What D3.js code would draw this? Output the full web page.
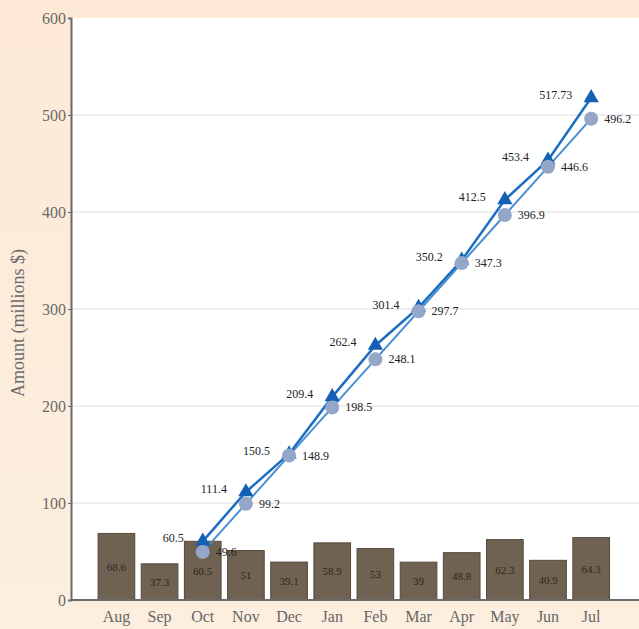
<!DOCTYPE html>
<html><head><meta charset="utf-8">
<script src="https://cdn.jsdelivr.net/npm/d3@7"></script>
<style>
html,body{margin:0;padding:0;background:#fcecdc;}
svg{display:block;}
</style></head>
<body>
<svg id="chart" width="639" height="629"></svg>
<script>
const months = ["Aug","Sep","Oct","Nov","Dec","Jan","Feb","Mar","Apr","May","Jun","Jul"];
const monthly = [68.6,37.3,60.5,51,39.1,58.9,53,39,48.8,62.3,40.9,64.3];
const lineMonths = ["Oct","Nov","Dec","Jan","Feb","Mar","Apr","May","Jun","Jul"];
const cumActual = [60.5,111.4,150.5,209.4,262.4,301.4,350.2,412.5,453.4,517.73];
const cumTarget = [49.6,99.2,148.9,198.5,248.1,297.7,347.3,396.9,446.6,496.2];
const yTicks = [0,100,200,300,400,500,600];
const yTitle = "Amount (millions $)";

(function(){
const svg = d3.select("#chart");
const W = 639, H = 629;
const mLeft = 71, mTop = 18, mBottom = 600;
const serif = "'Liberation Serif','Times New Roman',serif";

const defs = svg.append("defs");
const g0 = defs.append("linearGradient").attr("id","bg").attr("x1",0).attr("x2",0).attr("y1",0).attr("y2",1);
g0.append("stop").attr("offset","0%").attr("stop-color","#fde9d6");
g0.append("stop").attr("offset","100%").attr("stop-color","#fcefdf");
svg.append("rect").attr("width",W).attr("height",H).attr("fill","url(#bg)");
svg.append("rect").attr("x",mLeft).attr("y",mTop).attr("width",W-mLeft).attr("height",mBottom-mTop).attr("fill","#ffffff");

const x = d3.scaleBand().domain(months).range([91.6,616]).padding(0.15);
const y = d3.scaleLinear().domain([0,600]).range([mBottom, mTop]);

svg.append("g").selectAll("line").data(yTicks.filter(d=>d>0 && d<600)).join("line")
  .attr("x1",mLeft).attr("x2",W).attr("y1",d=>y(d)).attr("y2",d=>y(d))
  .attr("stroke","#dedede").attr("stroke-width",1);

const yAxis = svg.append("g").attr("transform",`translate(${mLeft},0)`)
  .call(d3.axisLeft(y).tickValues(yTicks).tickSize(3).tickFormat(d3.format("d")));
yAxis.select(".domain").attr("stroke","#6a6a6a").attr("stroke-width",2);
yAxis.selectAll(".tick line").attr("stroke","#6a6a6a");
yAxis.selectAll(".tick text").attr("font-family",serif)
  .attr("font-size",16).attr("fill","#6a6a6a").attr("x",-5);

svg.append("text").attr("transform",`translate(24,323) rotate(-90)`)
  .attr("text-anchor","middle").attr("font-family",serif)
  .attr("font-size",18).attr("fill","#6a6a6a").text(yTitle);

const bars = svg.append("g");
bars.selectAll("rect").data(monthly).join("rect")
  .attr("x",(d,i)=>x(months[i])).attr("width",x.bandwidth())
  .attr("y",d=>y(d)).attr("height",d=>y(0)-y(d))
  .attr("fill","#6f6253").attr("stroke","#57493c").attr("stroke-width",1);
bars.selectAll("text").data(monthly).join("text")
  .attr("x",(d,i)=>x(months[i])+x.bandwidth()/2)
  .attr("y",d=>y(d/2)+4).attr("text-anchor","middle")
  .attr("font-family",serif).attr("font-size",11)
  .attr("fill","#30251c").text(d=>d);

svg.append("line").attr("x1",mLeft).attr("x2",W).attr("y1",mBottom).attr("y2",mBottom)
  .attr("stroke","#6a6a6a").attr("stroke-width",2);
svg.append("g").selectAll("text").data(months).join("text")
  .attr("x",d=>x(d)+x.bandwidth()/2).attr("y",622).attr("text-anchor","middle")
  .attr("font-family",serif).attr("font-size",16)
  .attr("fill","#666").text(d=>d);

const cx = m => x(m)+x.bandwidth()/2;
const lineGen = d3.line().x(d=>cx(d[0])).y(d=>y(d[1]));
const actualPts = lineMonths.map((m,i)=>[m,cumActual[i]]);
const targetPts = lineMonths.map((m,i)=>[m,cumTarget[i]]);

svg.append("path").datum(targetPts).attr("d",lineGen).attr("fill","none")
  .attr("stroke","#4a8fd0").attr("stroke-width",2);
svg.append("path").datum(actualPts).attr("d",lineGen).attr("fill","none")
  .attr("stroke","#1b6ec2").attr("stroke-width",2.5);

svg.append("g").selectAll("path").data(actualPts).join("path")
  .attr("d",d3.symbol().type(d3.symbolTriangle).size(100))
  .attr("transform",d=>`translate(${cx(d[0])},${y(d[1])})`)
  .attr("fill","#1560b4");
svg.append("g").selectAll("circle").data(targetPts).join("circle")
  .attr("cx",d=>cx(d[0])).attr("cy",d=>y(d[1])).attr("r",7)
  .attr("fill","#95a7c9");

svg.append("g").selectAll("text").data(actualPts).join("text")
  .attr("x",d=>cx(d[0])-19).attr("y",d=>y(d[1])+1).attr("text-anchor","end")
  .attr("font-family",serif).attr("font-size",12).attr("fill","#222").text(d=>d[1]);
svg.append("g").selectAll("text").data(targetPts).join("text")
  .attr("x",d=>cx(d[0])+13).attr("y",d=>y(d[1])+4).attr("text-anchor","start")
  .attr("font-family",serif).attr("font-size",12).attr("fill","#222").text(d=>d[1]);
})();
</script>
</body></html>
